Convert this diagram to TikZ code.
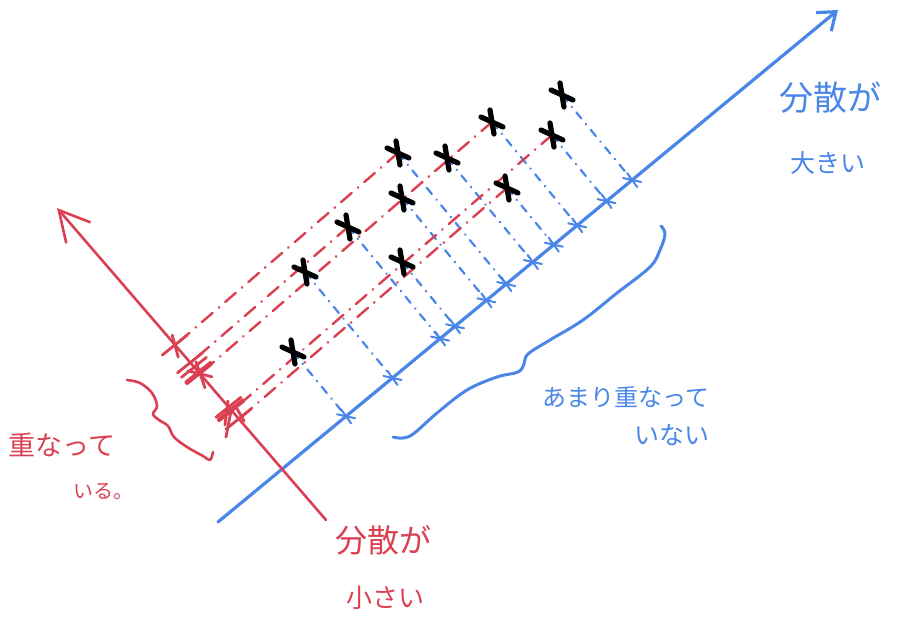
\documentclass[tikz,border=0pt]{standalone}
\usepackage{fontspec}
\newfontfamily\jp{Noto Sans CJK JP}
\usetikzlibrary{calc,arrows.meta}
\definecolor{pblue}{RGB}{74,134,232}
\definecolor{pred}{RGB}{218,64,82}
\begin{document}
\begin{tikzpicture}[x=0.5pt,y=-0.5pt,
  axisB/.style={pblue, line width=1.6pt, line cap=round},
  axisR/.style={pred, line width=1.3pt, line cap=round},
  projB/.style={pblue, line width=1.1pt, line cap=round, dash pattern=on 4pt off 3.5pt on 0.3pt off 3.5pt},
  projR/.style={pred, line width=1.2pt, line cap=round, dash pattern=on 7pt off 4pt on 0.3pt off 4pt},
  xs/.style={black, line width=2.6pt, line cap=round},
  tickB/.style={pblue, line width=1pt, line cap=round},
  tickR/.style={pred, line width=1.4pt, line cap=round},
  braceB/.style={pblue, line width=1.5pt, line cap=round, line join=round},
  braceR/.style={pred, line width=1.3pt, line cap=round, line join=round},
  labB/.style={text=pblue, inner sep=0pt},
  labR/.style={text=pred, inner sep=0pt}]
\useasboundingbox (0,0) rectangle (900,626);
% axes end points
\coordinate (bstart) at (218,522);
\coordinate (bend) at (838,10);
\coordinate (rstart) at (326,520);
\coordinate (rend) at (57,208);
% data points
\foreach \i/\x/\y in {1/293/352,2/305/272,3/348/227,4/402/262,5/402/198,6/398/153,7/447/158,8/507/188,9/492/122,10/552/135,11/562/95}
  {\coordinate (p\i) at (\x,\y);}
\foreach \i in {1,...,11} {\coordinate (qb\i) at ($(bstart)!(p\i)!(bend)$);}
\foreach \i in {1,...,11} {\coordinate (qr\i) at ($(rstart)!(p\i)!(rend)$);}
% projection lines
\foreach \i in {1,...,11} {\draw[projB] (p\i) -- (qb\i);}
\foreach \i in {6,9,3,10,8} {\draw[projR] (p\i) -- (qr\i);}
% axes
\draw[axisB, -{Straight Barb[length=8pt,width=12pt]}] (bstart) -- (bend);
\draw[axisR, -{Straight Barb[length=15pt,width=16pt]}] (rstart) -- (rend);
% ticks
\foreach \i in {1,...,11} {
  \draw[tickB] ($(qb\i)+(-5,-7)$) -- ($(qb\i)+(5,7)$);
  \draw[tickB] ($(qb\i)+(-9,-2)$) -- ($(qb\i)+(9,2)$);
}
\foreach \i in {1,2,3,4,5,6,7,8,9,10} {
  \draw[tickR] ($(qr\i)+(-13,10)$) -- ($(qr\i)+(12,-10)$);
}
\draw[tickR] ($(qr6)+(-3,-10)$) -- ($(qr6)+(3,12)$);
\draw[tickR] ($(qr9)+(-12,-3)$) -- ($(qr9)+(12,3)$);
\draw[tickR] ($(qr9)+(-4,-12)$) -- ($(qr9)+(5,14)$);
\draw[tickR] ($(qr8)+(-8,-8)$) -- ($(qr8)+(-13,18)$);
\draw[tickR] ($(qr10)+(-4,-10)$) -- ($(qr10)+(-7,14)$);
\draw[tickR] ($(qr10)+(4,-4)$) -- ($(qr10)+(12,10)$);
% black crosses
\foreach \i in {1,...,11} {
  \draw[xs] ($(p\i)+(-11,-5)$) -- ($(p\i)+(11,5)$);
  \draw[xs] ($(p\i)+(-2,-12)$) -- ($(p\i)+(2,12)$);
}
% braces
\draw[braceB] plot[smooth, tension=0.6] coordinates {(393,437) (410,436) (437,413) (467,390) (497,377) (518,372) (524,364) (528,354) (550,340) (583,320) (617,293) (650,267) (660,250) (665,234) (661,226)};
\draw[braceR] plot[smooth, tension=0.6] coordinates {(127,380) (140,383) (152,393) (157,406) (153,414) (159,420) (168,426) (174,437) (187,447) (203,456) (210,460) (213,452)};
% labels
\node[labB, font=\jp\fontsize{17}{19}\selectfont] (tb1) at (830,98) {分散が};
\node[labB, font=\jp\fontsize{12.5}{14}\selectfont] (tb2) at (828,163) {大きい};
\node[labB, font=\jp\fontsize{12}{14}\selectfont] (tb3) at (626,397) {あまり重なって};
\node[labB, font=\jp\fontsize{12.5}{14}\selectfont] (tb4) at (672,435) {いない};
\node[labR, font=\jp\fontsize{13.5}{15}\selectfont] (tr1) at (62,445) {重なって};
\node[labR, font=\jp\fontsize{10}{12}\selectfont] (tr2) at (103,492) {いる。};
\node[labR, font=\jp\fontsize{16}{18}\selectfont] (tr3) at (383,540) {分散が};
\node[labR, font=\jp\fontsize{13}{15}\selectfont] (tr4) at (385,598) {小さい};
\end{tikzpicture}
\end{document}
